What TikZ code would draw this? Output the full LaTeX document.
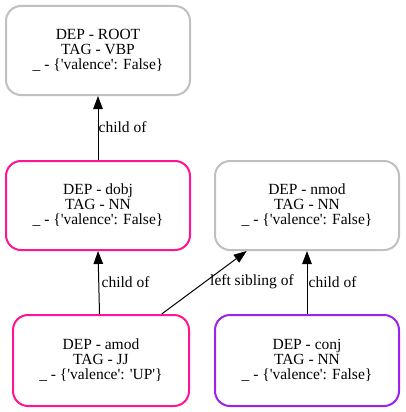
\documentclass[tikz,border=0pt]{standalone}
\usepackage{fontspec}
\setmainfont{Liberation Serif}
\usetikzlibrary{arrows.meta}
\definecolor{boxgrey}{HTML}{C0C0C0}
\definecolor{boxpink}{HTML}{FF1493}
\definecolor{boxpurple}{HTML}{A020F0}
\newcommand{\sq}{\textquotesingle}
\tikzset{
  tok/.style={draw, rounded corners=15pt, line width=2pt, fill=white, inner sep=0pt,
    align=center, font=\fontsize{15.5}{15}\selectfont},
  rel/.style={line width=1pt, -{Triangle[length=13pt,width=9.5pt]}},
  lab/.style={anchor=west, inner sep=0pt, font=\fontsize{15.5}{15}\selectfont},
}
\begin{document}
\begin{tikzpicture}[x=1pt,y=-1pt]
\useasboundingbox (0,0) rectangle (405,412);
\node[tok, draw=boxgrey, minimum width=184pt, minimum height=89pt] (root) at (98,50.5)
  {DEP - ROOT\\TAG - VBP\\\_ - \{\sq valence\sq: False\}};
\node[tok, draw=boxpink, minimum width=184pt, minimum height=89pt] (dobj) at (98,205.5)
  {DEP - dobj\\TAG - NN\\\_ - \{\sq valence\sq: False\}};
\node[tok, draw=boxgrey, minimum width=184pt, minimum height=89pt] (nmod) at (307,205.5)
  {DEP - nmod\\TAG - NN\\\_ - \{\sq valence\sq: False\}};
\node[tok, draw=boxpink, minimum width=176pt, minimum height=91pt] (amod) at (101,360.5)
  {DEP - amod\\TAG - JJ\\\_ - \{\sq valence\sq: \sq UP\sq\}};
\node[tok, draw=boxpurple, minimum width=184pt, minimum height=91pt] (conj) at (307,360.5)
  {DEP - conj\\TAG - NN\\\_ - \{\sq valence\sq: False\}};
\draw[rel] (dobj.north) -- (root.south);
\draw[rel] ([xshift=-1.5pt]amod.north) -- (dobj.south);
\draw[rel] ([xshift=60.7pt]amod.north) -- ([xshift=-60.3pt]nmod.south);
\draw[rel] (conj.north) -- (nmod.south);
\node[lab] (l1) at (98.5,127) {child of};
\node[lab] (l2) at (101.5,282) {child of};
\node[lab] (l3) at (210,282) {left sibling of};
\node[lab] (l4) at (308.5,282) {child of};
\end{tikzpicture}
\end{document}
